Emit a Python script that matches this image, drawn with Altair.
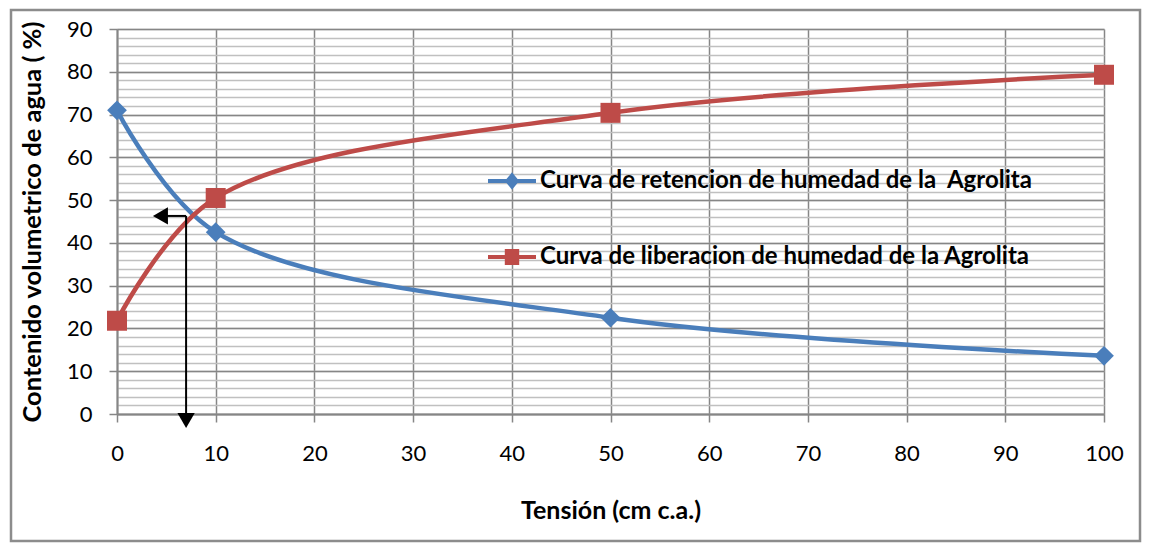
import altair as alt
import pandas as pd

# ---- data ----
tension = [0, 10, 50, 100]
retencion = [71.0, 42.5, 22.5, 13.6]
liberacion = [21.8, 50.5, 70.4, 79.3]
series_names = [
    "Curva de retencion de humedad de la\u00a0 Agrolita",
    "Curva de liberacion de humedad de la Agrolita",
]
series_colors = ["#4A7EBB", "#BE4B48"]

x_ticks = list(range(0, 101, 10))
y_major_ticks = list(range(0, 91, 10))
y_minor_ticks = list(range(0, 91, 2))

# annotation arrow (data coords)
arrow_x = [7.0, 7.0]
arrow_y = [46.3, 46.3]
arrow_x2 = [5.0, 7.0]
arrow_y2 = [46.3, -0.3]
head_x = [4.4, 7.0]
head_y = [46.3, -1.5]
head_shape = ["triangle-left", "triangle-down"]

rows = []
for name, vals in zip(series_names, [retencion, liberacion]):
    for t, v in zip(tension, vals):
        rows.append({"tension": t, "contenido": v, "serie": name})
df = pd.DataFrame(rows)

arrows = pd.DataFrame({"tension": arrow_x, "contenido": arrow_y, "x2": arrow_x2, "y2": arrow_y2})
heads = pd.DataFrame({"tension": head_x, "contenido": head_y, "shape": head_shape})

FONT = "Lato"
W, H = 987, 385

xscale = alt.Scale(domain=[0, 100], nice=False, zero=False)
yscale = alt.Scale(domain=[0, 90], nice=False, zero=False)

x_axis = alt.Axis(
    title="Tensión (cm c.a.)", values=x_ticks, grid=True, gridColor="#868686",
    gridWidth=1.5, domainColor="#868686", domainWidth=2, tickColor="#868686",
    tickSize=8, tickWidth=1.5, labelFont=FONT, labelFontSize=22, labelColor="black",
    labelPadding=21, titleFont=FONT, titleFontSize=25, titleFontWeight="bold",
    titleColor="black", titleY=96, titleBaseline="middle", labelFlush=False,
)
y_axis = alt.Axis(
    title="Contenido volumetrico de agua ( %)", values=y_major_ticks, orient="left",
    grid=True, gridColor="#868686", gridWidth=1.5, domainColor="#868686",
    domainWidth=2, tickColor="#868686", tickSize=8, tickWidth=1.5,
    labelFont=FONT, labelFontSize=22, labelColor="black", labelPadding=17,
    titleFont=FONT, titleFontSize=25.5, titleFontWeight="bold", titleColor="black",
    titleX=-85, titleY=H / 2, titleAngle=-90, titleBaseline="middle",
    titleAlign="center", labelFlush=False,
)
y_minor_axis = alt.Axis(
    title=None, values=y_minor_ticks, orient="left", grid=True,
    gridColor="#C0C0C0", gridWidth=1.5, labels=False, ticks=False, domain=False,
)

X = alt.X("tension:Q", scale=xscale, axis=x_axis)


def Y(axis=None):
    return alt.Y("contenido:Q", scale=yscale, axis=axis)


base = alt.Chart(df)

# frame around the whole chart (style only)
frame = alt.Chart(pd.DataFrame({"a": [0]})).mark_rect(
    fill="transparent", stroke="#8C8C8C", strokeWidth=2.5, clip=False
).encode(
    x=alt.value(-106), x2=alt.value(1023), y=alt.value(-19), y2=alt.value(512)
)

minor = base.transform_filter("false").mark_point(opacity=0).encode(x=X, y=Y(y_minor_axis))

lines = base.mark_line(strokeWidth=4.5, interpolate="catmull-rom", clip=False).encode(
    x=X, y=Y(y_axis),
    stroke=alt.Stroke("serie:N", scale=alt.Scale(domain=series_names, range=series_colors), legend=None),
)

shape_expr = f"datum.serie == '{series_names[0]}' ? 'diamond' : 'square'"
size_expr = f"datum.serie == '{series_names[0]}' ? 390 : 400"
points = base.transform_calculate(mshape=shape_expr, msize=size_expr).mark_point(
    filled=True, opacity=1, clip=False
).encode(
    x=X, y=Y(),
    fill=alt.Fill("serie:N", scale=alt.Scale(domain=series_names, range=series_colors), legend=None),
    shape=alt.Shape("mshape:N", scale=None, legend=None),
    size=alt.Size("msize:Q", scale=None, legend=None),
)

path_dia = "M-1,-0.08L1,-0.08L1,0.08L-1,0.08Z M0,-0.36L0.3,0L0,0.36L-0.3,0Z"
path_sq = "M-1,-0.08L1,-0.08L1,0.08L-1,0.08Z M-0.3,-0.33L0.3,-0.33L0.3,0.33L-0.3,0.33Z"

leg = alt.Legend(
    title=None, orient="none", legendX=371, legendY=128, symbolSize=2304,
    symbolStrokeWidth=0, labelFont=FONT, labelFontSize=24, labelFontWeight="bold",
    labelColor="black", labelOffset=4, rowPadding=40, labelLimit=0,
)
legend_layer = base.transform_filter("false").mark_point(filled=True, opacity=1, size=2304).encode(
    x=X, y=Y(),
    color=alt.Color("serie:N", scale=alt.Scale(domain=series_names, range=series_colors), legend=leg),
    shape=alt.Shape("serie:N", scale=alt.Scale(domain=series_names, range=[path_dia, path_sq]), legend=leg),
)

arrow_lines = alt.Chart(arrows).mark_rule(color="black", strokeWidth=2, clip=False).encode(
    x=X, y=Y(), x2="x2:Q", y2="y2:Q",
)
arrow_heads = alt.Chart(heads).mark_point(filled=True, color="black", opacity=1, size=300, clip=False).encode(
    x=X, y=Y(),
    shape=alt.Shape("shape:N", scale=None, legend=None),
)

chart = alt.layer(
    minor, frame, lines, points, arrow_lines, arrow_heads, legend_layer
).resolve_axis(y="independent").resolve_scale(
    shape="independent", color="independent"
).properties(
    width=W, height=H,
    autosize=alt.AutoSizeParams(type="none"),
    padding={"left": 109, "top": 21, "right": 38, "bottom": 130},
    background="white",
).configure_view(stroke=None)

chart.save("out.html", embed_options={"renderer": "svg", "actions": False})
